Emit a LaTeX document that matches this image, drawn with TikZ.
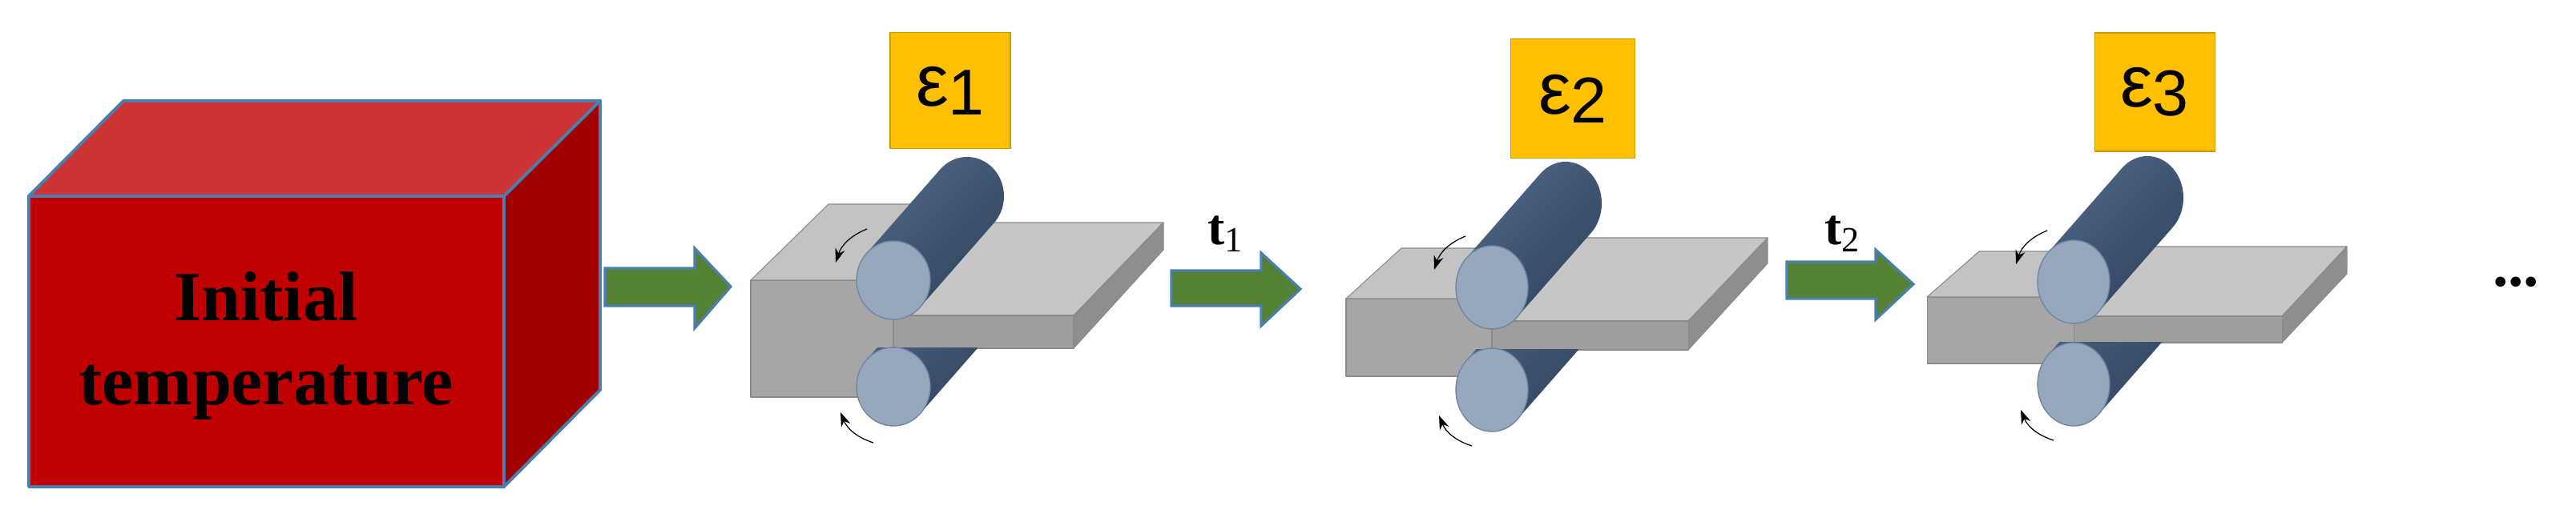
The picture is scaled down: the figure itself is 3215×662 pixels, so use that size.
\documentclass[tikz,border=0pt]{standalone}
\usepackage{fontspec}
\setmainfont{Liberation Serif}
\newfontfamily\sansf{Liberation Sans}
\usetikzlibrary{calc,arrows.meta}
\definecolor{cubefront}{HTML}{C00000}
\definecolor{cubetop}{HTML}{CC3333}
\definecolor{cuberight}{HTML}{A00000}
\definecolor{edgeblue}{HTML}{4A7EB0}
\definecolor{arrgreen}{HTML}{548235}
\definecolor{boxyellow}{HTML}{FFC000}
\definecolor{slabfront}{HTML}{A6A6A6}
\definecolor{slabtop}{HTML}{C3C3C3}
\definecolor{slabside}{HTML}{8E8E8E}
\definecolor{slabedge}{HTML}{8A8A8A}
\definecolor{rolldark}{HTML}{33455E}
\definecolor{rollmid}{HTML}{4D6585}
\definecolor{rollface}{HTML}{98A8BC}
\definecolor{rolledge}{HTML}{6F87A6}
\tikzset{
  cubeface/.style={draw=edgeblue,line width=1.1pt,line join=round},
  garrow/.style={fill=arrgreen,draw=edgeblue,line width=0.9pt,line join=miter},
  ybox/.style={fill=boxyellow,draw=boxyellow!80!black,line width=0.3pt},
  slab/.style={draw=slabedge,line width=0.3pt,line join=round},
  rollbody/.style={top color=rollmid,bottom color=rolldark,shading angle=45},
  rollend/.style={fill=rollface,draw=rolledge,line width=0.4pt},
  turn/.style={black,line width=0.35pt,-{Stealth[length=5pt,width=3.5pt]}},
  eps/.style={font=\sansf\fontsize{26}{28}\selectfont},
  tlab/.style={font=\fontsize{18}{20}\selectfont\bfseries},
}
\newcommand\drawstage{%
  \pgfmathsetmacro\dx{\XBR-\XFR}%
  \pgfmathsetmacro\dxb{\XBL-\XL}%
  \fill[slabfront,slab] (\XL,\YT) -- (\XL,\YB) -- (\XC,\YB) -- (\XC,\YT) -- cycle;
  \fill[slabtop,slab] (\XL,\YT) -- (\XBL,\YBL) -- (\XC+\dxb,\YBL) -- (\XC,\YT) -- cycle;
  \fill[slabtop!95!white,slab] (\XC,\YTT) -- (\XC+\dx,\YBR) -- (\XBR,\YBR) -- (\XFR,\YTT) -- cycle;
  \fill[slabside,slab] (\XFR,\YTT) -- (\XBR,\YBR) -- (\XBR,\YBRB) -- (\XFR,\YTB) -- cycle;
  \fill[slabfront!95!black,slab] (\XC,\YTT) -- (\XFR,\YTT) -- (\XFR,\YTB) -- (\XC,\YTB) -- cycle;
  \begin{scope}
    \clip (\XC-60,\YTB) rectangle (\XC+200,\YTB+200);
    \shade[rollbody] ($(\XC,\YRB)+(45:{\RX} and {\RY})$) -- ++(92,-105)
      arc[start angle=45,end angle=-135,x radius=\RX,y radius=\RY]
      -- ($(\XC,\YRB)+(225:{\RX} and {\RY})$) -- cycle;
  \end{scope}
  \filldraw[rollend] (\XC,\YRB) ellipse[x radius=\RX,y radius=\RY];
  \shade[rollbody] ($(\XC,\YRT)+(45:{\RX} and {\RY})$) -- ++(92,-105)
    arc[start angle=45,end angle=-135,x radius=\RX,y radius=\RY]
    -- ($(\XC,\YRT)+(225:{\RX} and {\RY})$) -- cycle;
  \filldraw[rollend] (\XC,\YRT) ellipse[x radius=\RX,y radius=\RY];
  \draw[turn] (\XC-33,\YRT-64) to[bend right=25] (\XC-72,\YRT-22);
  \draw[turn] (\XC-25,\YRB+70) to[bend left=25] (\XC-66,\YRB+32);
}
\begin{document}
\begin{tikzpicture}[x=0.01cm,y=-0.01cm]
\useasboundingbox (0,0) rectangle (3215,662);
\fill[cubetop,cubeface] (36,245) -- (154,126) -- (749,126) -- (629,245) -- cycle;
\fill[cuberight,cubeface] (629,245) -- (749,126) -- (749,487) -- (629,608) -- cycle;
\fill[cubefront,cubeface] (36,245) rectangle (629,608);
\node[font=\fontsize{25}{30}\selectfont\bfseries,align=center] (init) at (332,432) {Initial\\temperature};
\fill[garrow] (755,335) -- (867,335) -- (867,310) -- (912,358) -- (867,410) -- (867,382) -- (755,382) -- cycle;
\fill[garrow] (1462,338) -- (1574,338) -- (1574,316) -- (1623,361) -- (1574,407) -- (1574,382) -- (1462,382) -- cycle;
\fill[garrow] (2230,327) -- (2341,327) -- (2341,312) -- (2388,355) -- (2341,399) -- (2341,373) -- (2230,373) -- cycle;
\node[tlab] (t1) at (1530,292) {t\textsubscript{\mdseries 1}};
\node[tlab] (t2) at (2300,292) {t\textsubscript{\mdseries 2}};
\node[ybox,minimum width=150*0.01cm,minimum height=145*0.01cm] (e1) at (1186,113) {};
\node[eps] (e1l) at (e1) {ε\raisebox{-0.12em}{\fontsize{23}{23}\selectfont 1}};
\node[ybox,minimum width=155*0.01cm,minimum height=149*0.01cm] (e2) at (1963,123) {};
\node[eps] (e2l) at (e2) {ε\raisebox{-0.12em}{\fontsize{23}{23}\selectfont 2}};
\node[ybox,minimum width=150*0.01cm,minimum height=148*0.01cm] (e3) at (2689,115) {};
\node[eps] (e3l) at (e3) {ε\raisebox{-0.12em}{\fontsize{23}{23}\selectfont 3}};
% stage 1
\def\XL{937}\def\YT{350}\def\YB{496}\def\XBL{1034}\def\YBL{255}\def\XC{1115}
\def\YTT{394}\def\YTB{435}\def\XFR{1340}\def\XBR{1452}\def\YBR{278}\def\YBRB{312}
\def\YRT{350}\def\YRB{483}\def\RX{46}\def\RY{49}
\drawstage
% stage 2
\def\XL{1680}\def\YT{373}\def\YB{470}\def\XBL{1749}\def\YBL{310}\def\XC{1862}
\def\YTT{401}\def\YTB{437}\def\XFR{2107}\def\XBR{2206}\def\YBR{297}\def\YBRB{329}
\def\YRT{359}\def\YRB{487}\def\RX{45}\def\RY{52}
\drawstage
% stage 3
\def\XL{2405}\def\YT{371}\def\YB{454}\def\XBL{2470}\def\YBL{314}\def\XC{2588}
\def\YTT{395}\def\YTB{428}\def\XFR{2848}\def\XBR{2929}\def\YBR{308}\def\YBRB{342}
\def\YRT{352}\def\YRB{480}\def\RX{45}\def\RY{52}
\drawstage
\node[font=\fontsize{22}{22}\selectfont\bfseries] (dots) at (3140,352) {...};
\end{tikzpicture}
\end{document}
